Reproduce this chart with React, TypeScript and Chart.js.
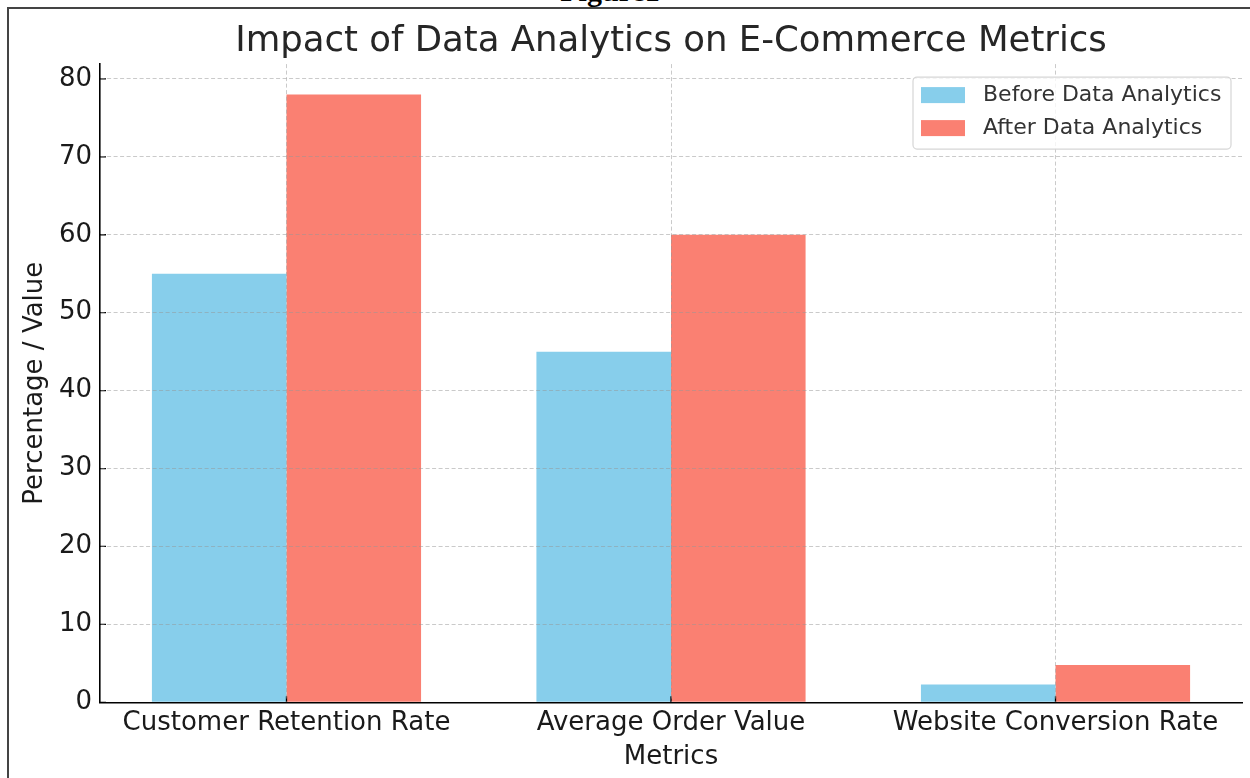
import React, { useEffect, useRef } from "react";
import { Chart, registerables } from "chart.js";
Chart.register(...registerables);

const categories = ["Customer Retention Rate", "Average Order Value", "Website Conversion Rate"];
const beforeValues = [55, 45, 2.3];
const afterValues = [78, 60, 4.8];
const yTicks = [0, 10, 20, 30, 40, 50, 60, 70, 80];
const seriesLabels = ["Before Data Analytics", "After Data Analytics"];
const seriesColors = ["#87CEEB", "#FA8072"];
const titleText = "Impact of Data Analytics on E-Commerce Metrics";
const xTitle = "Metrics";
const yTitle = "Percentage / Value";

const FONT = "'DejaVu Sans', sans-serif";
const GRID = "rgba(150,150,150,0.5)";

const innerTicks = {
  id: "innerTicks",
  afterDatasetsDraw(chart: any) {
    const { ctx, chartArea, scales } = chart;
    ctx.save();
    ctx.strokeStyle = "#000";
    ctx.lineWidth = 1.3;
    ctx.beginPath();
    scales.x.ticks.forEach((t: any) => {
      const px = scales.x.getPixelForValue(t.value);
      ctx.moveTo(px, chartArea.bottom);
      ctx.lineTo(px, chartArea.bottom - 6);
    });
    scales.y.ticks.forEach((t: any) => {
      const py = scales.y.getPixelForValue(t.value);
      ctx.moveTo(chartArea.left, py);
      ctx.lineTo(chartArea.left + 6, py);
    });
    ctx.stroke();
    ctx.restore();
  },
};

const boxLegend = {
  id: "boxLegend",
  afterDraw(chart: any) {
    const { ctx, chartArea } = chart;
    const w = 318, h = 72;
    const x = chartArea.right - 11 - w;
    const y = chartArea.top + 13;
    ctx.save();
    ctx.fillStyle = "rgba(255,255,255,0.8)";
    ctx.strokeStyle = "#d6d6d6";
    ctx.lineWidth = 1.2;
    ctx.beginPath();
    ctx.roundRect(x, y, w, h, 4);
    ctx.fill();
    ctx.stroke();
    ctx.font = `22px ${FONT}`;
    ctx.textBaseline = "middle";
    chart.data.datasets.forEach((ds: any, i: number) => {
      const cy = y + 18 + i * 33;
      ctx.fillStyle = ds.backgroundColor;
      ctx.fillRect(x + 8, cy - 8, 44, 16);
      ctx.fillStyle = "#333";
      ctx.fillText(ds.label, x + 70, cy);
    });
    ctx.restore();
  },
};

export default function App() {
  const ref = useRef<HTMLCanvasElement | null>(null);
  useEffect(() => {
    if (!ref.current) return;
    const chart = new Chart(ref.current, {
      type: "bar",
      data: {
        datasets: [beforeValues, afterValues].map((vals, k) => ({
          label: seriesLabels[k],
          data: vals.map((v, i) => ({ x: i, y: v })),
          backgroundColor: seriesColors[k],
          borderWidth: 0,
          categoryPercentage: 0.7,
          barPercentage: 1,
        })),
      },
      options: {
        responsive: false,
        animation: false,
        layout: { padding: { left: 0, right: 8, top: 0, bottom: 0 } },
        plugins: {
          legend: { display: false },
          tooltip: { enabled: false },
          title: {
            display: true,
            fullSize: false,
            text: titleText,
            color: "#262626",
            font: { family: FONT, size: 35.5, weight: "normal" },
            padding: { top: 20, bottom: 1.5 },
          },
        },
        scales: {
          x: {
            type: "linear",
            offset: false,
            min: -0.485,
            max: 2.485,
            afterBuildTicks: (s: any) => {
              s.ticks = categories.map((_, i) => ({ value: i }));
            },
            afterFit: (s: any) => {
              s.height = 75.7;
            },
            ticks: {
              autoSkip: false,
              maxRotation: 0,
              padding: 5,
              color: "#1a1a1a",
              font: { family: FONT, size: 26 },
              callback: (v: any) => categories[v as number],
            },
            grid: { color: GRID, lineWidth: 1, drawTicks: false, offset: false, z: 1 },
            border: { display: true, color: "#000", width: 1.6, dash: [4, 2.5], z: 2 },
            title: {
              display: true,
              text: xTitle,
              color: "#1a1a1a",
              font: { family: FONT, size: 26 },
              padding: { top: 0, bottom: 5 },
            },
          },
          y: {
            min: 0,
            max: 81.9,
            afterBuildTicks: (s: any) => {
              s.ticks = yTicks.map((v) => ({ value: v }));
            },
            afterFit: (s: any) => {
              s.width = 100;
            },
            ticks: {
              padding: 8,
              color: "#1a1a1a",
              font: { family: FONT, size: 26 },
            },
            grid: { color: GRID, lineWidth: 1, drawTicks: false, z: 1 },
            border: { display: true, color: "#000", width: 1.6, dash: [4, 2.5], z: 2 },
            title: {
              display: true,
              text: yTitle,
              color: "#1a1a1a",
              font: { family: FONT, size: 26 },
              padding: { top: 20, bottom: 0 },
            },
          },
        },
      } as any,
      plugins: [innerTicks, boxLegend],
    });
    return () => chart.destroy();
  }, []);

  return (
    <div style={{ position: "absolute", left: 0, top: 0, width: 1250, height: 778, overflow: "hidden", background: "#fff" }}>
      <div
        style={{
          position: "absolute",
          left: 0,
          width: 1250,
          top: -24,
          textAlign: "center",
          fontFamily: "'Liberation Serif', serif",
          fontWeight: "bold",
          fontSize: 30,
          lineHeight: "30px",
          paddingRight: 30,
          boxSizing: "border-box",
        }}
      >
        Figure1
      </div>
      <div
        style={{
          position: "absolute",
          left: 7,
          top: 7,
          width: 1300,
          height: 900,
          borderTop: "2px solid #444",
          borderLeft: "2px solid #444",
        }}
      />
      <canvas ref={ref} width={1250} height={778} style={{ position: "absolute", left: 0, top: 0 }} />
    </div>
  );
}
